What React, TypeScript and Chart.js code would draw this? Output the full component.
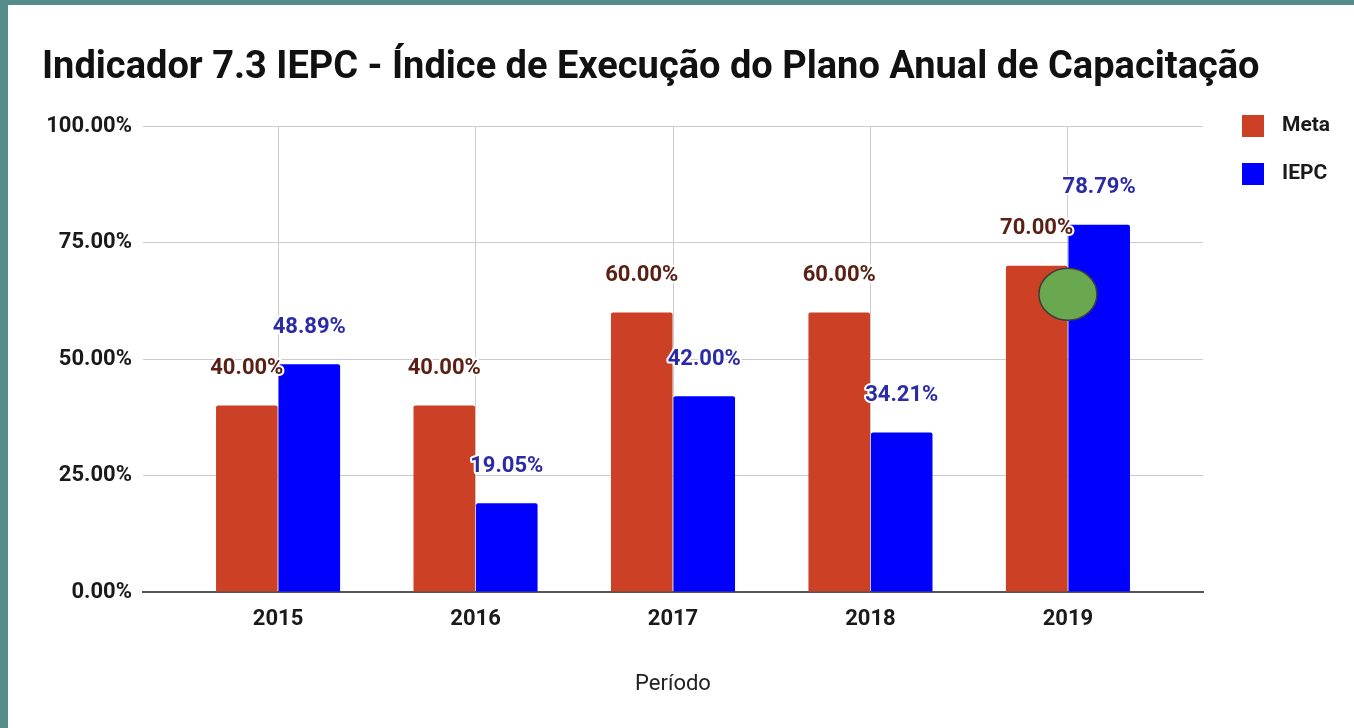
import React, { useEffect, useRef } from "react";
import { Chart, registerables } from "chart.js";

Chart.register(...registerables);

// Years on the horizontal axis
const YEARS = [2015, 2016, 2017, 2018, 2019];
// Target ("Meta") and achieved index ("IEPC"), in percent
const META = [40, 40, 60, 60, 70];
const IEPC = [48.89, 19.05, 42, 34.21, 78.79];
// Vertical axis ticks, in percent
const Y_TICKS = [0, 25, 50, 75, 100];

const TITLE = "Indicador 7.3 IEPC - Índice de Execução do Plano Anual de Capacitação";
const X_TITLE = "Período";
const SERIES_NAMES = ["Meta", "IEPC"];
const SERIES_COLORS = ["#cc4125", "#0000ff"];
const LABEL_COLORS = ["#5b2014", "#2b2ba6"];
// highlight marker sitting on the 2019 group
const MARKER_AT = { x: 2019, y: 63.9 };

const FONT = "Roboto, 'Noto Sans', sans-serif";
const fmtPct = (v: number) => v.toFixed(2) + "%";

const overlay = {
  id: "overlay",
  afterDatasetsDraw(chart: any) {
    const ctx = chart.ctx as CanvasRenderingContext2D;
    ctx.save();
    ctx.font = `bold 22px ${FONT}`;
    ctx.textAlign = "center";
    ctx.textBaseline = "middle";
    ctx.lineJoin = "round";
    chart.data.datasets.forEach((ds: any, di: number) => {
      const meta = chart.getDatasetMeta(di);
      meta.data.forEach((bar: any, i: number) => {
        const v = ds.data[i].y;
        const txt = fmtPct(v);
        const y = bar.y - 37;
        ctx.strokeStyle = "#ffffff";
        ctx.lineWidth = 4;
        ctx.strokeText(txt, bar.x, y);
        ctx.fillStyle = LABEL_COLORS[di];
        ctx.fillText(txt, bar.x, y);
      });
    });
    ctx.restore();
  },
  afterDraw(chart: any) {
    const ctx = chart.ctx as CanvasRenderingContext2D;
    const { x, y } = chart.scales;
    ctx.save();
    // title
    ctx.font = `bold 38px ${FONT}`;
    ctx.fillStyle = "#111111";
    ctx.textAlign = "left";
    ctx.textBaseline = "alphabetic";
    ctx.fillText(TITLE, 34, 73);
    // legend
    ctx.font = `bold 21px ${FONT}`;
    ctx.textBaseline = "middle";
    SERIES_NAMES.forEach((name, i) => {
      const cy = 121 + i * 48;
      ctx.fillStyle = SERIES_COLORS[i];
      ctx.fillRect(1234, cy - 11, 22, 22);
      ctx.fillStyle = "#1a1a1a";
      ctx.fillText(name, 1274, cy);
    });
    // marker
    const mx = x.getPixelForValue(MARKER_AT.x);
    const my = y.getPixelForValue(MARKER_AT.y);
    ctx.beginPath();
    ctx.ellipse(mx, my, 29, 26, 0, 0, Math.PI * 2);
    ctx.fillStyle = "#6aa84f";
    ctx.fill();
    ctx.lineWidth = 1.5;
    ctx.strokeStyle = "#3d3d3d";
    ctx.stroke();
    ctx.restore();
  },
};

export default function App() {
  const ref = useRef<HTMLCanvasElement>(null);

  useEffect(() => {
    if (!ref.current) return;
    const chart = new Chart(ref.current, {
      type: "bar",
      data: {
        datasets: [
          {
            label: SERIES_NAMES[0],
            data: YEARS.map((yr, i) => ({ x: yr, y: META[i] })),
            backgroundColor: SERIES_COLORS[0],
            borderRadius: { topLeft: 2, topRight: 2 },
            borderSkipped: "bottom",
          },
          {
            label: SERIES_NAMES[1],
            data: YEARS.map((yr, i) => ({ x: yr, y: IEPC[i] })),
            backgroundColor: SERIES_COLORS[1],
            borderRadius: { topLeft: 2, topRight: 2 },
            borderSkipped: "bottom",
          },
        ] as any,
      },
      options: {
        animation: false,
        responsive: false,
        maintainAspectRatio: false,
        layout: { padding: { left: 0, right: 151, top: 121, bottom: 0 } },
        datasets: { bar: { categoryPercentage: 0.633, barPercentage: 0.985 } } as any,
        plugins: {
          legend: { display: false },
          title: { display: false },
          tooltip: { enabled: false },
        },
        scales: {
          x: {
            type: "linear",
            offset: false,
            min: 2014.316,
            max: 2019.684,
            afterBuildTicks: (s: any) => {
              s.ticks = YEARS.map((v) => ({ value: v }));
            },
            afterFit: (s: any) => {
              s.height = 136;
            },
            ticks: {
              callback: (v: any) => String(v),
              font: { family: FONT, size: 22, weight: "bold" },
              color: "#1a1a1a",
              padding: 14,
              maxRotation: 0,
            },
            grid: { color: "#cccccc", lineWidth: 1, drawTicks: false, offset: false },
            border: { display: true, color: "#555555", width: 2 },
            title: {
              display: true,
              text: X_TITLE,
              font: { family: FONT, size: 22 },
              color: "#222222",
              padding: { top: 0, bottom: 30 },
            },
          },
          y: {
            min: 0,
            max: 100,
            afterBuildTicks: (s: any) => {
              s.ticks = Y_TICKS.map((v) => ({ value: v }));
            },
            afterFit: (s: any) => {
              s.width = 135;
            },
            ticks: {
              callback: (v: any) => fmtPct(Number(v)),
              font: { family: FONT, size: 22, weight: "bold" },
              color: "#1a1a1a",
              padding: 11,
            },
            grid: { color: "#cccccc", lineWidth: 1, drawTicks: false },
            border: { display: false },
          },
        },
      },
      plugins: [overlay],
    });
    return () => chart.destroy();
  }, []);

  return (
    <div
      style={{
        position: "fixed",
        left: 0,
        top: 0,
        width: 1354,
        height: 728,
        background: "#568d8b",
        overflow: "hidden",
      }}
    >
      <div
        style={{
          position: "absolute",
          left: 8,
          top: 5,
          width: 1346,
          height: 723,
          background: "#ffffff",
        }}
      >
        <canvas ref={ref} width={1346} height={723} style={{ display: "block" }} />
      </div>
    </div>
  );
}
